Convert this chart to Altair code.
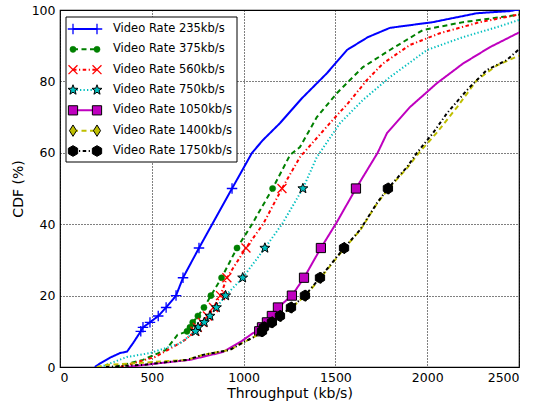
import math
import altair as alt
import pandas as pd

# ---------------- data ----------------
marker_levels = [50.0, 33.33, 25.0, 20.0, 16.67, 14.29, 12.5, 11.11, 10.0]

series_names = ["Video Rate 235kb/s", "Video Rate 375kb/s", "Video Rate 560kb/s",
                "Video Rate 750kb/s", "Video Rate 1050kb/s", "Video Rate 1400kb/s",
                "Video Rate 1750kb/s"]

# curve points (throughput, CDF%)
r235_x = [190, 218, 272, 327, 365, 398, 1046, 1106, 1198, 1318, 1454, 1563, 1677, 1797, 2031, 2271, 2451, 2480, 2500]
r235_y = [0, 1, 2.6, 3.9, 4.3, 6.7, 60, 63.6, 68.3, 75.3, 82.3, 88.8, 92.4, 95, 96.6, 99.1, 99.7, 100, 100]
r235_m = [937, 757, 670, 632, 578, 535, 490, 452, 440]

r375_x = [300, 452, 577, 640, 1046, 1253, 1307, 1399, 1508, 1650, 1797, 1977, 2195, 2488, 2500]
r375_y = [0, 2, 4.8, 9, 40, 59.4, 61.6, 70, 76.7, 84, 88.8, 94.4, 96.6, 98.6, 98.7]
r375_m = [1158, 964, 880, 822, 784, 751, 723, 708, 692]

r560_x = [330, 517, 588, 681, 1106, 1307, 1470, 1569, 1672, 1759, 1906, 2069, 2287, 2488, 2500]
r560_y = [0, 2.8, 4.8, 7.6, 40, 58.8, 68.3, 73.9, 80.4, 85, 90.2, 93.5, 96.6, 98.6, 98.7]
r560_m = [1209, 1013, 909, 874, 836, 803, 775, 748, 735]

r750_x = [220, 272, 365, 490, 545, 650, 700, 1209, 1399, 1525, 1650, 1797, 1999, 2195, 2380, 2500]
r750_y = [0, 1, 2.8, 3.9, 4.8, 6.5, 8.5, 40, 58.8, 68.3, 74.8, 81.2, 88.8, 92.4, 95.2, 97.2]
r750_m = [1323, 1116, 995, 902, 852, 817, 786, 752, 738]

r1050_x = [365, 545, 708, 888, 991, 1051, 1508, 1730, 1781, 1906, 2053, 2195, 2342, 2500]
r1050_y = [0, 1.1, 2, 4.2, 7.3, 9.5, 40.6, 60, 65.5, 72.8, 79.5, 85, 89.6, 93.7]
r1050_m = [1612, 1421, 1329, 1263, 1187, 1154, 1127, 1100, 1085]

r1400_x = [200, 256, 450, 692, 779, 926, 991, 1060, 1636, 1728, 1895, 1955, 2050, 2163, 2271, 2380, 2500]
r1400_y = [0, 0.6, 1.2, 2, 3.4, 4.8, 6.7, 8.5, 38.4, 45.9, 56, 60, 65.5, 72.8, 80.4, 84.5, 87.2]
r1400_m = [1790, 1550, 1420, 1338, 1262, 1203, 1158, 1115, 1102]

r1750_x = [250, 450, 692, 779, 926, 991, 1060, 1634, 1726, 1890, 1944, 2031, 2108, 2217, 2325, 2434, 2500]
r1750_y = [0, 0.6, 2, 3.4, 4.8, 6.7, 8.5, 38.4, 45.9, 56, 60, 65.5, 71.1, 77.6, 83.2, 86, 89]
r1750_m = [1786, 1547, 1416, 1334, 1258, 1198, 1154, 1111, 1100]

x_ticks = [0, 500, 1000, 1500, 2000, 2500]
y_ticks = [0, 20, 40, 60, 80, 100]

# ---------------- styles ----------------
def star_path():
    pts = []
    for k in range(10):
        r = 1.0 if k % 2 == 0 else 0.42
        a = -math.pi / 2 + k * math.pi / 5
        pts.append(f"{r*math.cos(a):.3f},{r*math.sin(a):.3f}")
    return "M" + "L".join(pts) + "Z"

PLUS = "M-1,0L1,0M0,-1L0,1"
XMARK = "M-1,-1L1,1M-1,1L1,-1"
STAR = star_path()
DIAMOND = "M0,-1L0.62,0L0,1L-0.62,0Z"
HEXAGON = "M0,-1L0.866,-0.5L0.866,0.5L0,1L-0.866,0.5L-0.866,-0.5Z"

styles = [
    dict(color="#0000ff", dash=[1, 0], shape=PLUS, size=110, filled=False, fill=None, mstroke="#0000ff", msw=1.3),
    dict(color="#008000", dash=[5, 3.5], shape="circle", size=38, filled=True, fill="#008000", mstroke="#008000", msw=0.5),
    dict(color="#ff0000", dash=[3.5, 2.5, 1.2, 2.5], shape=XMARK, size=80, filled=False, fill=None, mstroke="#ff0000", msw=1.3),
    dict(color="#00bfbf", dash=[1.3, 2.2], shape=STAR, size=110, filled=True, fill="#00bfbf", mstroke="#000000", msw=1.0),
    dict(color="#bf00bf", dash=[1, 0], shape="square", size=85, filled=True, fill="#bf00bf", mstroke="#000000", msw=1.0),
    dict(color="#bfbf00", dash=[5, 3.5], shape=DIAMOND, size=130, filled=True, fill="#bfbf00", mstroke="#000000", msw=1.0),
    dict(color="#000000", dash=[3.5, 2.5, 1.2, 2.5], shape=HEXAGON, size=115, filled=True, fill="#000000", mstroke="#000000", msw=1.0),
]

curves = [(r235_x, r235_y, r235_m), (r375_x, r375_y, r375_m), (r560_x, r560_y, r560_m),
          (r750_x, r750_y, r750_m), (r1050_x, r1050_y, r1050_m), (r1400_x, r1400_y, r1400_m),
          (r1750_x, r1750_y, r1750_m)]

xs = alt.Scale(domain=[0, 2500], nice=False, zero=False)
ys = alt.Scale(domain=[0, 100], nice=False)

main_layers = []
legend_layers = []

axis_df = pd.DataFrame({"x": [0, 2500], "y": [0, 100]})
axis_layer = alt.Chart(axis_df).mark_point(opacity=0).encode(
    x=alt.X("x:Q", scale=xs, title="Throughput (kb/s)",
            axis=alt.Axis(values=x_ticks, format="d", grid=True)),
    y=alt.Y("y:Q", scale=ys, title="CDF (%)",
            axis=alt.Axis(values=y_ticks, format="d", grid=True)),
)
main_layers.append(axis_layer)

leg_y = alt.Scale(domain=[0, 6], range=[19, 141])

box = alt.Chart(pd.DataFrame({"a": [0]})).mark_rect(
    fill="white", stroke="black", strokeWidth=1
).encode(x=alt.value(6), x2=alt.value(177), y=alt.value(7), y2=alt.value(152))
legend_layers.append(box)

for i, (name, st, (cx, cy, cm)) in enumerate(zip(series_names, styles, curves)):
    px = list(cx) + list(cm)
    py = list(cy) + marker_levels
    pts = sorted(zip(px, py), key=lambda t: (t[1], t[0]))
    df = pd.DataFrame({"x": [p[0] for p in pts], "y": [p[1] for p in pts]})
    df["o"] = range(len(df))
    line = alt.Chart(df).mark_line(
        color=st["color"], strokeWidth=2, strokeDash=st["dash"], clip=True
    ).encode(x=alt.X("x:Q", scale=xs), y=alt.Y("y:Q", scale=ys), order="o:Q")
    mdf = pd.DataFrame({"x": cm, "y": marker_levels})
    mk_kwargs = dict(shape=st["shape"], size=st["size"], filled=st["filled"],
                     stroke=st["mstroke"], strokeWidth=st["msw"], opacity=1)
    if st["fill"]:
        mk_kwargs["fill"] = st["fill"]
    pts_layer = alt.Chart(mdf).mark_point(**mk_kwargs).encode(
        x=alt.X("x:Q", scale=xs), y=alt.Y("y:Q", scale=ys))
    main_layers += [line, pts_layer]

    ldf = pd.DataFrame({"idx": [i], "label": [name]})
    lrule = alt.Chart(ldf).mark_rule(
        color=st["color"], strokeWidth=2, strokeDash=st["dash"]
    ).encode(x=alt.value(13), x2=alt.value(37),
             y=alt.Y("idx:Q", scale=leg_y, axis=None))
    legend_layers.append(lrule)
    for xv in (13, 37):
        lp = alt.Chart(ldf).mark_point(**mk_kwargs).encode(
            x=alt.value(xv), y=alt.Y("idx:Q", scale=leg_y, axis=None))
        legend_layers.append(lp)

names_df = pd.DataFrame({"idx": list(range(7)), "label": series_names})
ltext = alt.Chart(names_df).mark_text(
    align="left", baseline="middle", font="DejaVu Sans", fontSize=11.5, color="black"
).encode(x=alt.value(53), y=alt.Y("idx:Q", scale=leg_y, axis=None), text="label:N")
legend_layers.append(ltext)

main = alt.layer(*main_layers)
legend = alt.layer(*legend_layers)

chart = alt.layer(main, legend).resolve_scale(y="independent").properties(
    width=459, height=357,
    autosize=alt.AutoSizeParams(type="none"),
    padding={"left": 60, "top": 10, "right": 21, "bottom": 40},
    background="white",
).configure_view(
    stroke="black", strokeWidth=1.2
).configure_axis(
    domain=False, ticks=False,
    gridColor="#000000", gridDash=[1, 2], gridOpacity=1, gridWidth=1,
    labelFont="DejaVu Sans", labelFontSize=12.5, labelColor="black",
    titleFont="DejaVu Sans", titleFontSize=14, titleFontWeight="normal", titleColor="black",
).configure_axisX(
    labelPadding=4, titlePadding=3
).configure_axisY(
    labelPadding=5, titlePadding=6
)

chart.save("out.html", embed_options={"renderer": "svg", "actions": False})
